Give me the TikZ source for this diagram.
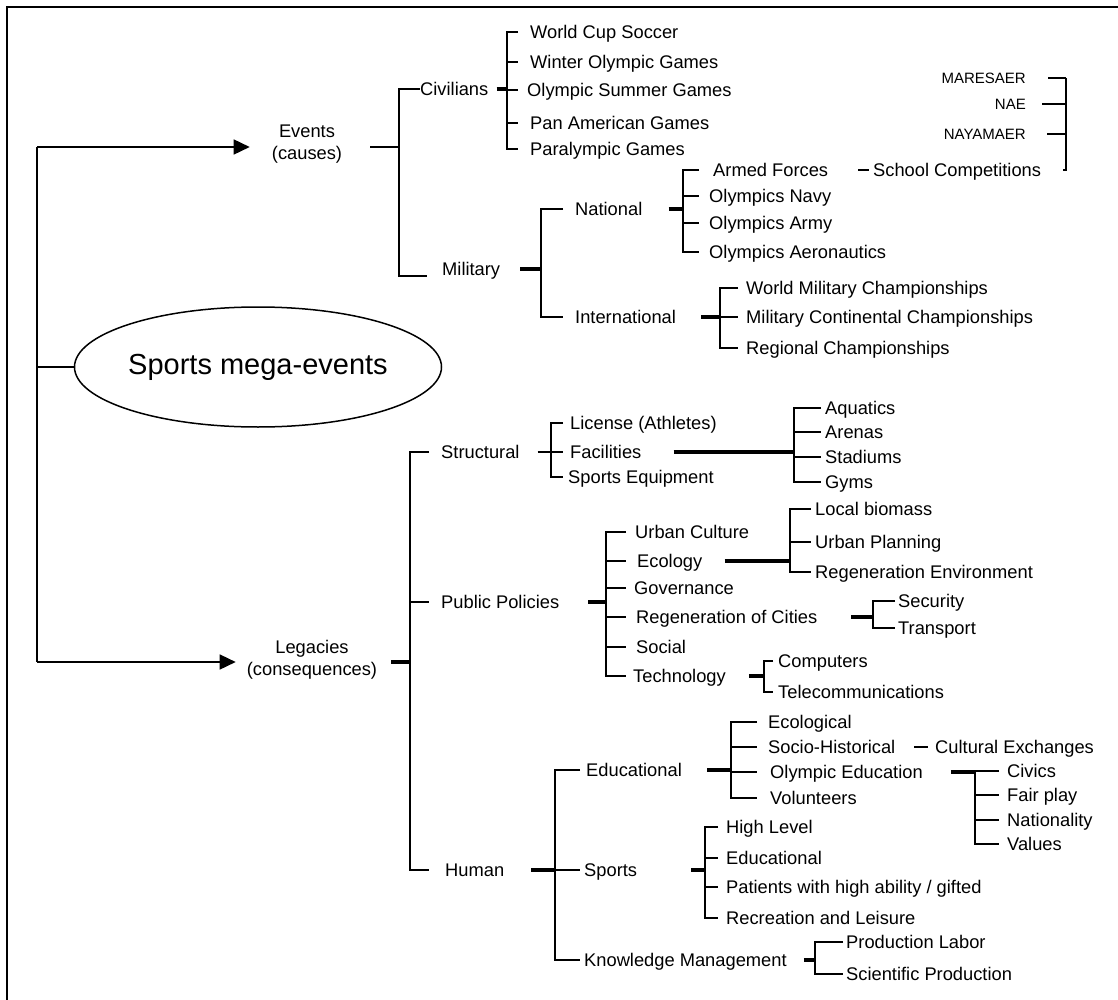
\documentclass[tikz,border=0pt]{standalone}
\usepackage{fontspec}
\setmainfont{Liberation Sans}
\usetikzlibrary{arrows.meta,shapes.geometric,calc}
\begin{document}
\begin{tikzpicture}[x=1pt,y=-1pt,
  lbl/.style={anchor=west,inner sep=0pt,text height=13pt,text depth=0pt,font=\fontsize{18.3}{22}\selectfont},
  sml/.style={anchor=east,inner sep=0pt,text height=10.5pt,text depth=0pt,font=\fontsize{15}{18}\selectfont},
  ctr/.style={align=center,inner sep=0pt,font=\fontsize{18.3}{22.5}\selectfont},
  ln/.style={line width=1.5pt},
  thk/.style={line width=3.2pt},
  arr/.style={line width=1.5pt,-{Triangle[length=16pt,width=15pt]}},
  frame/.style={line width=2pt}
]
\useasboundingbox (0,0) rectangle (1118,1000);
\draw[frame] (1118,7) -- (7,7) -- (7,1000);

% ---------- nodes ----------
\node[draw,ellipse,line width=1.5pt,minimum width=344pt,minimum height=120pt,inner sep=0pt,font=\fontsize{29}{34}\selectfont] (root) at (258,367) {Sports mega-events};

\node[ctr] (ev) at (307,144) {Events\\(causes)};
\node[ctr] (leg) at (312,660) {Legacies\\(consequences)};

\node[lbl] (civ) at (420,89) {Civilians};
\node[lbl] (mil) at (442,269) {Military};
\node[lbl] (c1) at (530,32) {World Cup Soccer};
\node[lbl] (c2) at (530,62) {Winter Olympic Games};
\node[lbl] (c3) at (527,90) {Olympic Summer Games};
\node[lbl] (c4) at (530,123) {Pan American Games};
\node[lbl] (c5) at (530,149) {Paralympic Games};
\node[lbl] (nat) at (575,209) {National};
\node[lbl] (intl) at (575,317) {International};
\node[lbl] (n1) at (713,170) {Armed Forces};
\node[lbl] (sc) at (873,170) {School Competitions};
\node[lbl] (n2) at (709,196) {Olympics Navy};
\node[lbl] (n3) at (709,223) {Olympics Army};
\node[lbl] (n4) at (709,252) {Olympics Aeronautics};
\node[lbl] (m1) at (746,288) {World Military Championships};
\node[lbl] (m2) at (746,317) {Military Continental Championships};
\node[lbl] (m3) at (746,348) {Regional Championships};
\node[sml] (a1) at (1026,78) {MARESAER};
\node[sml] (a2) at (1026,104) {NAE};
\node[sml] (a3) at (1026,134) {NAYAMAER};

\node[lbl] (str) at (441,452) {Structural};
\node[lbl] (pp) at (441,602) {Public Policies};
\node[lbl] (hum) at (445,870) {Human};
\node[lbl] (s1) at (570,423) {License (Athletes)};
\node[lbl] (s2) at (570,452) {Facilities};
\node[lbl] (s3) at (568,477) {Sports Equipment};
\node[lbl] (f1) at (825,408) {Aquatics};
\node[lbl] (f2) at (825,432) {Arenas};
\node[lbl] (f3) at (825,457) {Stadiums};
\node[lbl] (f4) at (825,482) {Gyms};
\node[lbl] (p1) at (635,532) {Urban Culture};
\node[lbl] (p2) at (637,561) {Ecology};
\node[lbl] (p3) at (634,588) {Governance};
\node[lbl] (p4) at (636,617) {Regeneration of Cities};
\node[lbl] (p5) at (636,647) {Social};
\node[lbl] (p6) at (633,676) {Technology};
\node[lbl] (e1) at (815,509) {Local biomass};
\node[lbl] (e2) at (815,542) {Urban Planning};
\node[lbl] (e3) at (815,572) {Regeneration Environment};
\node[lbl] (r1) at (898,601) {Security};
\node[lbl] (r2) at (898,628) {Transport};
\node[lbl] (t1) at (778,661) {Computers};
\node[lbl] (t2) at (778,692) {Telecommunications};
\node[lbl] (h1) at (586,770) {Educational};
\node[lbl] (h2) at (584,870) {Sports};
\node[lbl] (h3) at (584,960) {Knowledge Management};
\node[lbl] (ed1) at (768,722) {Ecological};
\node[lbl] (ed2) at (768,747) {Socio-Historical};
\node[lbl] (ed3) at (770,772) {Olympic Education};
\node[lbl] (ed4) at (770,798) {Volunteers};
\node[lbl] (ce) at (935,747) {Cultural Exchanges};
\node[lbl] (o1) at (1007,771) {Civics};
\node[lbl] (o2) at (1007,795) {Fair play};
\node[lbl] (o3) at (1007,820) {Nationality};
\node[lbl] (o4) at (1007,844) {Values};
\node[lbl] (sp1) at (726,827) {High Level};
\node[lbl] (sp2) at (726,858) {Educational};
\node[lbl] (sp3) at (726,887) {Patients with high ability / gifted};
\node[lbl] (sp4) at (726,918) {Recreation and Leisure};
\node[lbl] (k1) at (846,942) {Production Labor};
\node[lbl] (k2) at (846,974) {Scientific Production};

% ---------- spine coordinates ----------
\coordinate (rt) at (37,147);
\coordinate (rb) at (37,662);
\coordinate (ex) at (399,0);
\coordinate (eB) at (399,276);
\coordinate (cbx) at (507,0);
\coordinate (mbx) at (541,0);
\coordinate (nbx) at (683,0);
\coordinate (ibx) at (720,0);
\coordinate (abx) at (1066,0);
\coordinate (lbx) at (410,0);
\coordinate (sbx) at (551,0);
\coordinate (fbx) at (794,0);
\coordinate (pbx) at (606,0);
\coordinate (ebx) at (790,0);
\coordinate (rbx) at (873,0);
\coordinate (tbx) at (764,0);
\coordinate (hbx) at (555,0);
\coordinate (edbx) at (731,0);
\coordinate (obx) at (975,0);
\coordinate (spbx) at (705,0);
\coordinate (kbx) at (815,0);

% ---------- root ----------
\draw[ln] (rt) -- (rb);
\draw[ln] (root.west -| rt) -- (root.west);
\draw[arr] (rt) -- ($(ev.west |- rt)+(-22,0)$);
\draw[arr] (rb) -- ($(leg.west |- rb)+(-11,0)$);

% ---------- events ----------
\draw[ln] ($(ev.east |- rt)+(28,0)$) -- (ex |- rt);
\draw[ln] (civ.west) -- (civ.west -| ex) -- (eB) -- ++(28,0);

\draw[thk] ($(civ.east)+(8,0)$) -- (civ.east -| cbx);
\draw[ln] ($(c1.west -| cbx)+(11,0)$) -- (c1.west -| cbx) -- (c5.west -| cbx) -- ++(11,0);
\foreach \n in {c2,c3,c4} \draw[ln] (\n.west -| cbx) -- ++(11,0);

\draw[thk] ($(mil.east)+(20,0)$) -- (mil.east -| mbx);
\draw[ln] ($(nat.west -| mbx)+(22,0)$) -- (nat.west -| mbx) -- (intl.west -| mbx) -- ++(22,0);

\draw[thk] ($(nat.east)+(26,0)$) -- (nat.east -| nbx);
\draw[ln] ($(n1.west -| nbx)+(16,0)$) -- (n1.west -| nbx) -- (n4.west -| nbx) -- ++(16,0);
\foreach \n in {n2,n3} \draw[ln] (\n.west -| nbx) -- ++(16,0);
\draw[ln] ($(sc.west)+(-15,0)$) -- ($(sc.west)+(-4,0)$);

\draw[ln] ($(a1.east)+(22,0)$) -- (a1.east -| abx);
\draw[ln] ($(a2.east)+(16,0)$) -- (a2.east -| abx);
\draw[ln] ($(a3.east)+(21,0)$) -- (a3.east -| abx);
\draw[line width=2.5pt] (a1.east -| abx) -- (sc.west -| abx) -- ++(-3,0);

\draw[thk] ($(intl.east)+(25,0)$) -- (intl.east -| ibx);
\draw[ln] ($(m1.west -| ibx)+(18,0)$) -- (m1.west -| ibx) -- (m3.west -| ibx) -- ++(18,0);
\draw[ln] (m2.west -| ibx) -- ++(18,0);

% ---------- legacies ----------
\draw[thk] ($(leg.east |- rb)+(14,0)$) -- (rb -| lbx);
\draw[ln] ($(str.west -| lbx)+(19,0)$) -- (str.west -| lbx) -- (hum.west -| lbx) -- ++(19,0);
\draw[ln] (pp.west -| lbx) -- ++(19,0);

\draw[ln] ($(str.east)+(18,0)$) -- ($(str.east -| sbx)+(12,0)$);
\draw[ln] ($(s1.west -| sbx)+(12,0)$) -- (s1.west -| sbx) -- (s3.west -| sbx) -- ++(12,0);

\draw[thk] ($(s2.east)+(32,0)$) -- (s2.east -| fbx);
\draw[ln] ($(f1.west -| fbx)+(27,0)$) -- (f1.west -| fbx) -- (f4.west -| fbx) -- ++(27,0);
\foreach \n in {f2,f3} \draw[ln] (\n.west -| fbx) -- ++(27,0);

\draw[thk] ($(pp.east)+(29,0)$) -- (pp.east -| pbx);
\draw[ln] ($(p1.west -| pbx)+(20,0)$) -- (p1.west -| pbx) -- (p6.west -| pbx) -- ++(20,0);
\foreach \n in {p2,p3,p4,p5} \draw[ln] (\n.west -| pbx) -- ++(20,0);

\draw[thk] ($(p2.east)+(22,0)$) -- (p2.east -| ebx);
\draw[ln] ($(e1.west -| ebx)+(21,0)$) -- (e1.west -| ebx) -- (e3.west -| ebx) -- ++(21,0);
\draw[ln] (e2.west -| ebx) -- ++(21,0);

\draw[thk] ($(p4.east)+(34,0)$) -- (p4.east -| rbx);
\draw[ln] ($(r1.west -| rbx)+(22,0)$) -- (r1.west -| rbx) -- (r2.west -| rbx) -- ++(22,0);

\draw[thk] ($(p6.east)+(23,0)$) -- (p6.east -| tbx);
\draw[ln] ($(t1.west -| tbx)+(9,0)$) -- (t1.west -| tbx) -- (t2.west -| tbx) -- ++(9,0);

\draw[thk] ($(hum.east)+(27,0)$) -- (hum.east -| hbx);
\draw[ln] ($(h1.west -| hbx)+(25,0)$) -- (h1.west -| hbx) -- (h3.west -| hbx) -- ++(25,0);
\draw[ln] (h2.west -| hbx) -- ++(25,0);

\draw[thk] ($(h1.east)+(25,0)$) -- (h1.east -| edbx);
\draw[ln] ($(ed1.west -| edbx)+(26,0)$) -- (ed1.west -| edbx) -- (ed4.west -| edbx) -- ++(26,0);
\foreach \n in {ed2,ed3} \draw[ln] (\n.west -| edbx) -- ++(26,0);
\draw[ln] ($(ce.west)+(-21,0)$) -- ($(ce.west)+(-7,0)$);

\draw[thk] ($(ed3.east)+(28,0)$) -- (ed3.east -| obx);
\draw[ln] ($(o1.west -| obx)+(24,0)$) -- (o1.west -| obx) -- (o4.west -| obx) -- ++(24,0);
\foreach \n in {o2,o3} \draw[ln] (\n.west -| obx) -- ++(24,0);

\draw[thk] ($(h2.east)+(54,0)$) -- (h2.east -| spbx);
\draw[ln] ($(sp1.west -| spbx)+(13,0)$) -- (sp1.west -| spbx) -- (sp4.west -| spbx) -- ++(13,0);
\foreach \n in {sp2,sp3} \draw[ln] (\n.west -| spbx) -- ++(13,0);

\draw[thk] ($(h3.east)+(17,0)$) -- (h3.east -| kbx);
\draw[ln] ($(k1.west -| kbx)+(28,0)$) -- (k1.west -| kbx) -- (k2.west -| kbx) -- ++(28,0);
\end{tikzpicture}
\end{document}
